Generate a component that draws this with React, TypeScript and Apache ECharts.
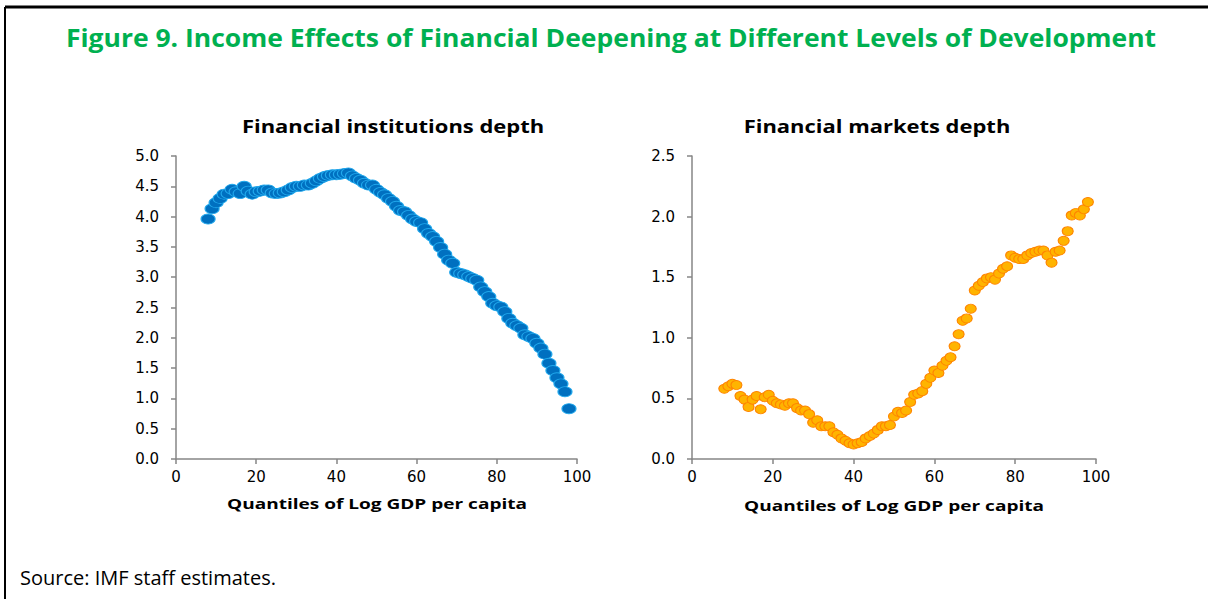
import React, { useEffect, useRef } from "react";
import * as echarts from "echarts";

const quantiles = [
  8, 9, 10, 11, 12, 13, 14, 15, 16, 17, 18, 19, 20, 21, 22, 23, 24, 25, 26, 27,
  28, 29, 30, 31, 32, 33, 34, 35, 36, 37, 38, 39, 40, 41, 42, 43, 44, 45, 46, 47,
  48, 49, 50, 51, 52, 53, 54, 55, 56, 57, 58, 59, 60, 61, 62, 63, 64, 65, 66, 67,
  68, 69, 70, 71, 72, 73, 74, 75, 76, 77, 78, 79, 80, 81, 82, 83, 84, 85, 86, 87,
  88, 89, 90, 91, 92, 93, 94, 95, 96, 97, 98,
];

const institutionsDepth = [
  3.96, 4.13, 4.23, 4.30, 4.37, 4.38, 4.45, 4.41, 4.38, 4.50, 4.42, 4.37, 4.41, 4.42, 4.44, 4.44, 4.39, 4.38, 4.39, 4.41,
  4.44, 4.48, 4.50, 4.50, 4.52, 4.52, 4.55, 4.59, 4.63, 4.66, 4.68, 4.69, 4.69, 4.70, 4.71, 4.72, 4.67, 4.63, 4.60, 4.55,
  4.52, 4.52, 4.45, 4.40, 4.36, 4.30, 4.25, 4.17, 4.10, 4.08, 4.02, 3.96, 3.92, 3.90, 3.80, 3.72, 3.67, 3.59, 3.49, 3.38,
  3.28, 3.23, 3.08, 3.06, 3.04, 3.01, 2.98, 2.95, 2.84, 2.76, 2.68, 2.57, 2.53, 2.51, 2.43, 2.32, 2.24, 2.20, 2.16, 2.05,
  2.02, 1.99, 1.91, 1.83, 1.73, 1.58, 1.46, 1.34, 1.24, 1.11, 0.83,
];

const marketsDepth = [
  0.58, 0.60, 0.62, 0.61, 0.52, 0.49, 0.43, 0.49, 0.52, 0.41, 0.51, 0.53, 0.48, 0.46, 0.45, 0.44, 0.46, 0.46, 0.42, 0.40,
  0.40, 0.37, 0.30, 0.32, 0.27, 0.27, 0.27, 0.22, 0.20, 0.17, 0.15, 0.13, 0.12, 0.13, 0.14, 0.17, 0.19, 0.21, 0.24, 0.27,
  0.27, 0.28, 0.35, 0.39, 0.38, 0.40, 0.47, 0.53, 0.54, 0.56, 0.62, 0.67, 0.73, 0.71, 0.77, 0.81, 0.84, 0.93, 1.03, 1.14,
  1.16, 1.24, 1.39, 1.43, 1.46, 1.49, 1.50, 1.48, 1.53, 1.57, 1.59, 1.68, 1.66, 1.65, 1.65, 1.68, 1.70, 1.71, 1.72, 1.72,
  1.68, 1.62, 1.71, 1.72, 1.80, 1.88, 2.01, 2.03, 2.01, 2.06, 2.12,
];

const xTicks = [0, 20, 40, 60, 80, 100];

const mainTitle = "Figure 9. Income Effects of Financial Deepening at Different Levels of Development";
const leftTitle = "Financial institutions depth";
const rightTitle = "Financial markets depth";
const xAxisTitle = "Quantiles of Log GDP per capita";
const sourceNote = "Source: IMF staff estimates.";

const AXIS_COLOR = "#868686";
const TICK_FONT = "'DejaVu Sans', Verdana, sans-serif";
const TEXT_FONT = "'Open Sans', 'Noto Sans', sans-serif";

function xAxisOpt(gridIndex: number) {
  return {
    type: "value",
    gridIndex,
    min: xTicks[0],
    max: xTicks[xTicks.length - 1],
    interval: xTicks[1] - xTicks[0],
    axisLine: { show: true, lineStyle: { color: AXIS_COLOR, width: 1.5 } },
    axisTick: { show: true, inside: false, length: 5, lineStyle: { color: AXIS_COLOR, width: 1.5 } },
    axisLabel: { fontFamily: TICK_FONT, fontSize: 15, color: "#000", margin: 10 },
    splitLine: { show: false },
  };
}

function yAxisOpt(gridIndex: number, max: number) {
  return {
    type: "value",
    gridIndex,
    min: 0,
    max,
    interval: 0.5,
    axisLine: { show: true, lineStyle: { color: AXIS_COLOR, width: 1.5 } },
    axisTick: { show: true, inside: false, length: 5, lineStyle: { color: AXIS_COLOR, width: 1.5 } },
    axisLabel: {
      fontFamily: TICK_FONT,
      fontSize: 15,
      color: "#000",
      margin: 17,
      formatter: (v: number) => v.toFixed(1),
    },
    splitLine: { show: false },
  };
}

function label(text: string, x: number, y: number, font: string, scaleX: number, fill = "#000", align = "center") {
  return {
    type: "text",
    x,
    y,
    scaleX,
    style: { text, fill, font, align, verticalAlign: "middle" },
  };
}

export default function App() {
  const ref = useRef<HTMLDivElement>(null);

  useEffect(() => {
    document.body.style.margin = "0";
    if (!ref.current) return;
    const chart = echarts.init(ref.current, undefined, { renderer: "svg" });
    const leftData = quantiles.map((q, i) => [q, institutionsDepth[i]]);
    const rightData = quantiles.map((q, i) => [q, marketsDepth[i]]);
    chart.setOption({
      animation: false,
      backgroundColor: "#fff",
      grid: [
        { left: 176, top: 156, width: 401, height: 303 },
        { left: 692, top: 156, width: 404, height: 303 },
      ],
      xAxis: [xAxisOpt(0), xAxisOpt(1)],
      yAxis: [yAxisOpt(0, 5), yAxisOpt(1, 2.5)],
      series: [
        {
          type: "scatter",
          name: leftTitle,
          xAxisIndex: 0,
          yAxisIndex: 0,
          data: leftData,
          symbol: "circle",
          symbolSize: [14, 10],
          itemStyle: { color: "#0070C0", borderColor: "#20A8EC", borderWidth: 1, opacity: 1 },
        },
        {
          type: "scatter",
          name: rightTitle,
          xAxisIndex: 1,
          yAxisIndex: 1,
          data: rightData,
          symbol: "circle",
          symbolSize: [11, 9],
          itemStyle: { color: "#FFB400", borderColor: "#FF8400", borderWidth: 1, opacity: 1 },
        },
      ],
      graphic: [
        {
          type: "line",
          shape: { x1: 5, y1: 7, x2: 1208, y2: 7 },
          style: { stroke: "#000", lineWidth: 3 },
        },
        {
          type: "line",
          shape: { x1: 5, y1: 7, x2: 5, y2: 599 },
          style: { stroke: "#000", lineWidth: 2 },
        },
        label(mainTitle, 611, 37, `bold 25px ${TEXT_FONT}`, 1.06, "#00B050"),
        label(leftTitle, 393, 126, `bold 18px ${TEXT_FONT}`, 1.22),
        label(rightTitle, 877, 126, `bold 18px ${TEXT_FONT}`, 1.22),
        label(xAxisTitle, 377, 503, `bold 15px ${TEXT_FONT}`, 1.27),
        label(xAxisTitle, 894, 505, `bold 15px ${TEXT_FONT}`, 1.27),
        label(sourceNote, 20, 577, `20px ${TEXT_FONT}`, 1, "#000", "left"),
      ],
    });
    return () => chart.dispose();
  }, []);

  return <div ref={ref} style={{ width: 1208, height: 599 }} />;
}
